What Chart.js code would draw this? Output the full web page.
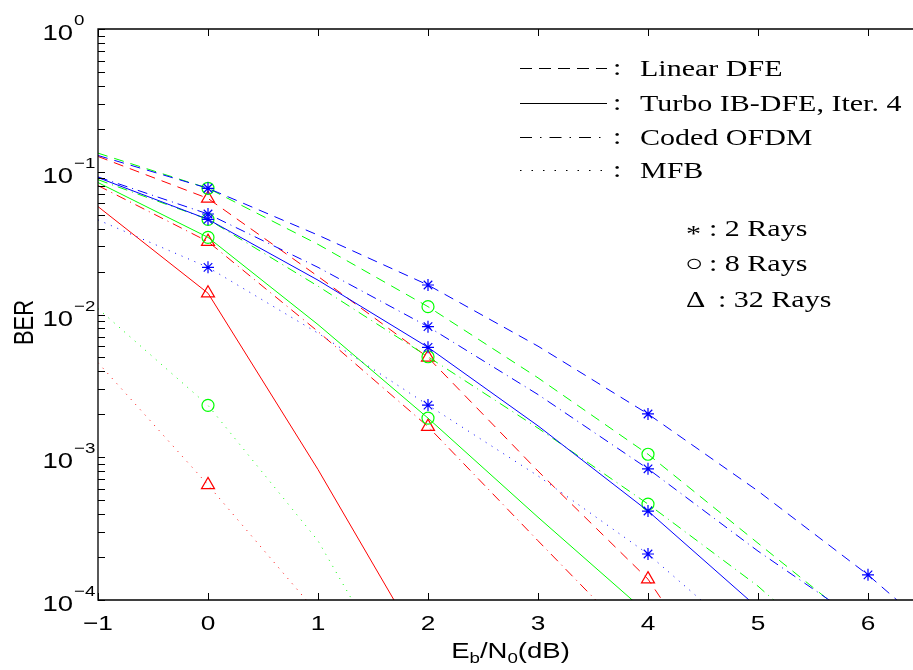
<!DOCTYPE html>
<html>
<head>
<meta charset="utf-8">
<script src="https://cdn.jsdelivr.net/npm/chart.js@4.4.0/dist/chart.umd.min.js"></script>
<style>
  html, body { margin: 0; padding: 0; background: #fff; overflow: hidden; }
  canvas { display: block; }
</style>
</head>
<body>
<canvas id="berChart" width="913" height="670"></canvas>
<script>
// Eb/N0 in dB
const ebn0 = [-1, 0, 1, 2, 3, 4, 5, 6, 7];

// 2 Rays (blau)
const dfe2  = [0.13, 0.0766, 0.036, 0.0161, 0.0060, 0.00201, 0.00058, 0.00015, 0.000032];
const tib2  = [0.091, 0.0464, 0.0174, 0.00589, 0.00166, 0.00042, 0.000088, null, null];
const ofdm2 = [0.092, 0.0506, 0.0214, 0.00822, 0.00275, 0.00083, 0.00022, 0.000065, null];
const mfb2  = [0.046, 0.0214, 0.0074, 0.00232, 0.00074, 0.00021, 0.000045, null, null];

// 8 Rays (gruen)
const dfe8  = [0.135, 0.0766, 0.031, 0.01135, 0.0036, 0.00105, 0.00025, 0.00006, null];
const tib8  = [0.084, 0.0347, 0.0085, 0.00188, 0.00038, 0.00008, null, null, null];
const ofdm8 = [0.088, 0.0464, 0.0158, 0.00506, 0.0016, 0.00047, 0.000125, 0.000026, null];
const mfb8  = [0.011, 0.00231, 0.00026, 0.000012, null, null, null, null, null];

// 32 Rays (rot)
const dfe32  = [0.128, 0.065, 0.0185, 0.005, 0.0008, 0.00014, 0.00001, null, null];
const tib32  = [0.057, 0.0141, 0.00082, 0.000039, null, null, null, null, null];
const ofdm32 = [0.08, 0.0324, 0.0076, 0.00164, 0.00026, 0.000042, null, null, null];
const mfb32  = [0.0046, 0.00064, 0.00008, null, null, null, null, null, null];

// Achsenbeschriftung
const xTicks = [-1, 0, 1, 2, 3, 4, 5, 6];
const yDecades = [0, -1, -2, -3, -4];
const markerAt = [0, 2, 4, 6];

const BLUE = '#0000ff', GREEN = '#00ff00', RED = '#ff0000';
const DASH = [10, 7], DASHDOT = [10, 5, 1, 5], DOT = [1, 6];
const SX = 1.25; // Text ist in der Vorlage horizontal gestreckt

function series(values, color, dash, marker, size) {
    return {
        data: ebn0.map((x, i) => ({ x: x, y: values[i] })),
        borderColor: color,
        borderWidth: 1,
        borderDash: dash,
        backgroundColor: 'rgba(0,0,0,0)',
        pointStyle: marker,
        pointBorderColor: color,
        pointBorderWidth: 1.2,
        pointRadius: ctx => markerAt.includes(ebn0[ctx.dataIndex]) ? size : 0,
        pointHoverRadius: 0,
        spanGaps: false,
        tension: 0
    };
}

function stretchText(ctx, str, px, py, align) {
    ctx.save();
    ctx.translate(px, py);
    ctx.scale(SX, 1);
    ctx.textAlign = align;
    ctx.fillText(str, 0, 0);
    ctx.restore();
    return ctx.measureText(str).width * SX;
}

function seg(ctx, x1, y1, x2, y2) {
    ctx.beginPath(); ctx.moveTo(x1, y1); ctx.lineTo(x2, y2); ctx.stroke();
}

// Rahmen, Ticks, Beschriftungen und Textlegende
const decorations = {
    id: 'decorations',
    afterDraw(chart) {
        const { ctx, chartArea: a, scales: { x, y } } = chart;
        ctx.save();
        ctx.strokeStyle = '#000';
        ctx.fillStyle = '#000';
        ctx.lineWidth = 1.3;
        ctx.setLineDash([]);
        // rechter Rand liegt in der Vorlage ausserhalb des Bildes
        ctx.beginPath();
        ctx.moveTo(a.right + 2, a.top);
        ctx.lineTo(a.left, a.top);
        ctx.lineTo(a.left, a.bottom);
        ctx.lineTo(a.right + 2, a.bottom);
        ctx.stroke();

        ctx.lineWidth = 1;
        xTicks.forEach(v => {
            const px = Math.round(x.getPixelForValue(v)) + 0.5;
            seg(ctx, px, a.bottom, px, a.bottom - 7);
            seg(ctx, px, a.top, px, a.top + 7);
        });
        yDecades.forEach(e => {
            for (let m = 1; m <= 9; m++) {
                const v = m * Math.pow(10, e);
                if (v > 1 || v < 1e-4) continue;
                const py = Math.round(y.getPixelForValue(v)) + 0.5;
                seg(ctx, a.left, py, a.left + 7, py);
            }
        });

        // x Tick-Labels
        ctx.font = '21px "Liberation Sans"';
        ctx.textBaseline = 'alphabetic';
        xTicks.forEach(v => {
            const label = v < 0 ? '\u2212' + Math.abs(v) : String(v);
            stretchText(ctx, label, x.getPixelForValue(v), a.bottom + 30, 'center');
        });

        // y Tick-Labels 10^e
        yDecades.forEach(e => {
            const py = y.getPixelForValue(Math.pow(10, e));
            ctx.font = '22px "Liberation Sans"';
            stretchText(ctx, '10', a.left - 25, py + 11, 'right');
            ctx.font = '15px "Liberation Sans"';
            stretchText(ctx, e < 0 ? '\u2212' + Math.abs(e) : String(e), a.left - 24, py - 4, 'left');
        });

        // Achsentitel (Mitte der vollen Achse bis 6.5 dB)
        const cx = x.getPixelForValue(2.75);
        const parts = [['E', 0, 22], ['b', 5, 15], ['/N', 0, 22], ['0', 5, 15], ['(dB)', 0, 22]];
        let total = 0;
        parts.forEach(p => { ctx.font = p[2] + 'px "Liberation Sans"'; total += ctx.measureText(p[0]).width * SX; });
        let tx = cx - total / 2;
        parts.forEach(p => {
            ctx.font = p[2] + 'px "Liberation Sans"';
            tx += stretchText(ctx, p[0], tx, 658 + p[1], 'left');
        });

        ctx.save();
        ctx.translate(33, (a.top + a.bottom) / 2 + 8);
        ctx.rotate(-Math.PI / 2);
        ctx.scale(1, SX);
        ctx.font = '22px "Liberation Sans"';
        ctx.textAlign = 'center';
        ctx.fillText('BER', 0, 0);
        ctx.restore();

        // Legende: Linienstile
        const rows = [
            [[12, 7], 'Linear DFE', 68],
            [[], 'Turbo IB-DFE, Iter. 4', 103],
            [[12, 8, 1.5, 8], 'Coded OFDM', 137],
            [[1.5, 10], 'MFB', 170]
        ];
        rows.forEach(r => {
            ctx.setLineDash(r[0]);
            ctx.lineWidth = 1;
            seg(ctx, 520, r[2] + 0.5, 607, r[2] + 0.5);
            ctx.setLineDash([]);
            ctx.font = '24px "Liberation Serif"';
            stretchText(ctx, ':', 613, r[2] + 7, 'left');
            stretchText(ctx, r[1], 640, r[2] + 8, 'left');
        });

        // Legende: Marker
        ctx.font = '24px "Liberation Serif"';
        stretchText(ctx, '*', 686, 241, 'left');
        stretchText(ctx, ': 2 Rays', 709, 236, 'left');
        stretchText(ctx, '\u25CB', 685, 271, 'left');
        stretchText(ctx, ': 8 Rays', 709, 271, 'left');
        stretchText(ctx, '\u0394', 686, 307, 'left');
        stretchText(ctx, ': 32 Rays', 718, 307, 'left');
        ctx.restore();
    }
};

document.addEventListener("DOMContentLoaded", function () {
    const ctx = document.getElementById('berChart').getContext('2d');
    new Chart(ctx, {
        type: 'line',
        data: {
            datasets: [
                series(dfe2, BLUE, DASH, 'star', 6),
                series(tib2, BLUE, [], 'star', 6),
                series(ofdm2, BLUE, DASHDOT, 'star', 6),
                series(mfb2, BLUE, DOT, 'star', 6),
                series(dfe8, GREEN, DASH, 'circle', 6),
                series(tib8, GREEN, [], 'circle', 6),
                series(ofdm8, GREEN, DASHDOT, 'circle', 6),
                series(mfb8, GREEN, DOT, 'circle', 6),
                series(dfe32, RED, DASH, 'triangle', 7.5),
                series(tib32, RED, [], 'triangle', 7.5),
                series(ofdm32, RED, DASHDOT, 'triangle', 7.5),
                series(mfb32, RED, DOT, 'triangle', 7.5)
            ]
        },
        options: {
            responsive: false,
            animation: false,
            events: [],
            layout: { padding: { left: 98, right: 1, top: 29, bottom: 70 } },
            plugins: { legend: { display: false }, tooltip: { enabled: false } },
            scales: {
                x: { type: 'linear', min: -1, max: 6.4, display: false },
                y: { type: 'logarithmic', min: 1e-4, max: 1, display: false }
            }
        },
        plugins: [decorations]
    });
});
</script>
</body>
</html>
